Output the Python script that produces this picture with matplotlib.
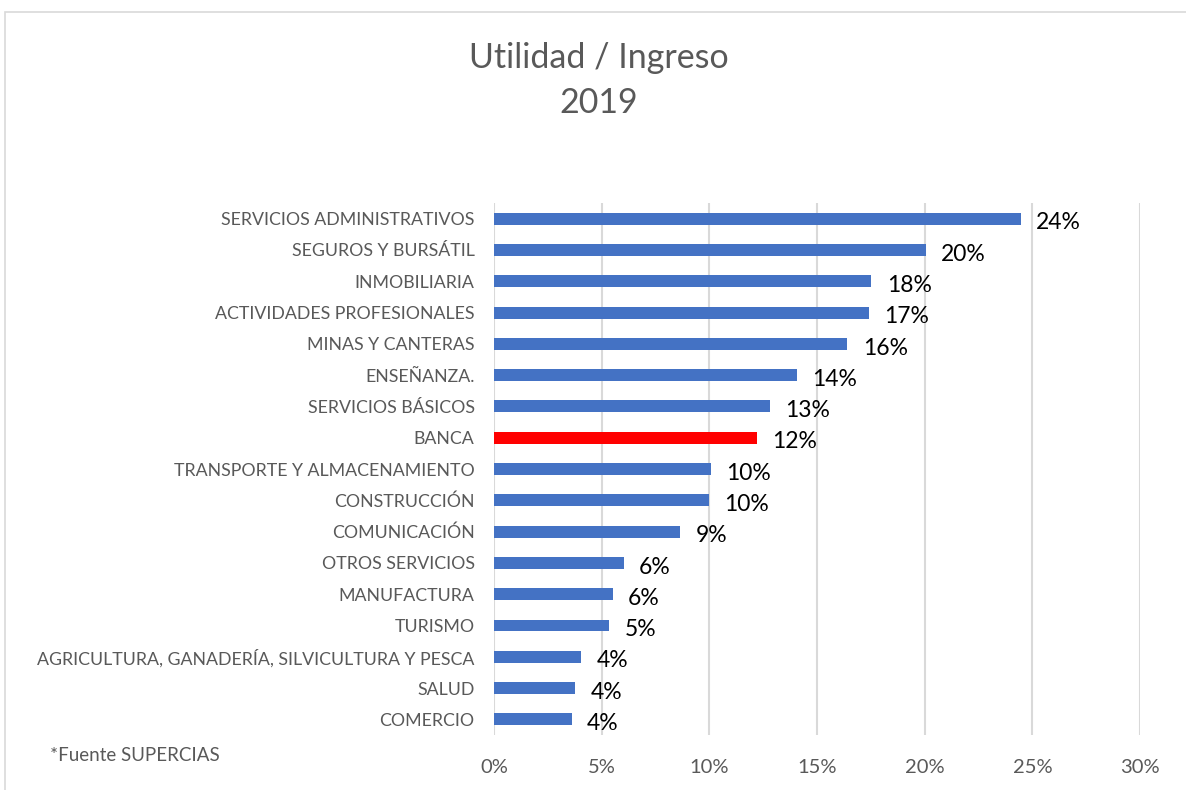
import matplotlib.pyplot as plt
import matplotlib.patches as mpatches
from matplotlib.ticker import FuncFormatter

# Sectors, top to bottom as shown
sectors = [
    "SERVICIOS ADMINISTRATIVOS",
    "SEGUROS Y BURSÁTIL",
    "INMOBILIARIA",
    "ACTIVIDADES PROFESIONALES",
    "MINAS Y CANTERAS",
    "ENSEÑANZA.",
    "SERVICIOS BÁSICOS",
    "BANCA",
    "TRANSPORTE Y ALMACENAMIENTO",
    "CONSTRUCCIÓN",
    "COMUNICACIÓN",
    "OTROS SERVICIOS",
    "MANUFACTURA",
    "TURISMO",
    "AGRICULTURA, GANADERÍA, SILVICULTURA Y PESCA",
    "SALUD",
    "COMERCIO",
]
ratio = [0.2447, 0.2004, 0.1753, 0.1742, 0.1641, 0.1407, 0.1281, 0.1221,
         0.1007, 0.1000, 0.0865, 0.0603, 0.0552, 0.0535, 0.0406, 0.0377, 0.0361]
highlight = "BANCA"
x_ticks = [0, 0.05, 0.10, 0.15, 0.20, 0.25, 0.30]

BLUE = "#4472C4"
RED = "#FF0000"
GRAY_TXT = "#595959"
FONT = ["Lato", "DejaVu Sans"]

plt.rcParams["font.family"] = FONT

fig = plt.figure(figsize=(11.86, 7.90), dpi=100)
ax = fig.add_axes([0.4165, 0.0696, 0.5447, 0.6734])

ypos = list(range(len(sectors)))[::-1]
colors = [RED if s == highlight else BLUE for s in sectors]
ax.barh(ypos, ratio, height=0.38, color=colors, zorder=3)

for y, v in zip(ypos, ratio):
    ax.annotate(f"{v:.0%}", (v, y), xytext=(11, -3), textcoords="offset points",
                ha="left", va="center", fontsize=16.5, color="black")

ax.set_xlim(0, 0.30)
ax.set_ylim(-0.5, len(sectors) - 0.5)
ax.set_xticks(x_ticks)
ax.xaxis.set_major_formatter(FuncFormatter(lambda v, _: f"{v:.0%}"))
ax.set_yticks(ypos)
ax.set_yticklabels(sectors)
ax.tick_params(axis="y", length=0, pad=14, labelsize=12.8, labelcolor=GRAY_TXT)
ax.tick_params(axis="x", length=0, pad=17, labelsize=14.5, labelcolor=GRAY_TXT)
ax.grid(axis="x", color="#d9d9d9", linewidth=1.5, zorder=0)
for sp in ax.spines.values():
    sp.set_visible(False)

fig.text(0.505, 0.926, "Utilidad / Ingreso", ha="center", va="center",
         fontsize=24.5, color=GRAY_TXT)
fig.text(0.505, 0.870, "2019", ha="center", va="center",
         fontsize=24.5, color=GRAY_TXT)
fig.text(0.042, 0.044, "*Fuente SUPERCIAS", ha="left", va="center",
         fontsize=13.5, color=GRAY_TXT)

# chart frame
fig.patches.append(mpatches.Rectangle((0.004, -0.01), 1.0, 0.995, transform=fig.transFigure,
                                      fill=False, edgecolor="#d9d9d9", linewidth=1.2))

fig.savefig("out.png", dpi=100)
